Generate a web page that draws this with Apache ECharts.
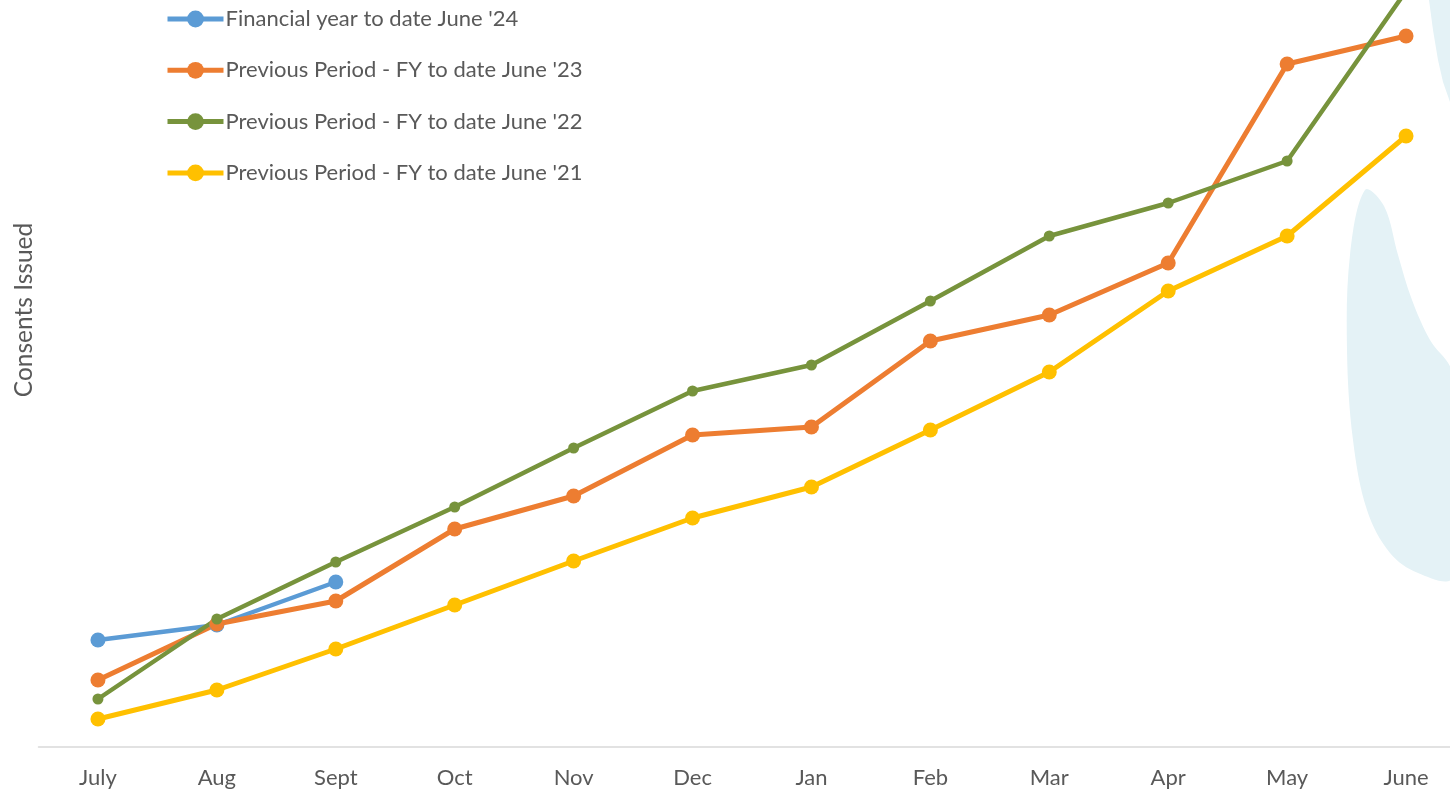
<!DOCTYPE html>
<html>
<head>
<meta charset="utf-8">
<script src="https://cdn.jsdelivr.net/npm/echarts@6/dist/echarts.min.js"></script>
<style>
  html, body { margin: 0; padding: 0; background: #fff; }
  #chart { width: 1450px; height: 792px; }
</style>
</head>
<body>
<div id="chart"></div>
<script>
// months of the financial year
var months = ['July', 'Aug', 'Sept', 'Oct', 'Nov', 'Dec', 'Jan', 'Feb', 'Mar', 'Apr', 'May', 'June'];

// consents issued (no value axis shown, so relative units)
var fy24 = [107, 122, 165];
var fy23 = [67, 123, 146, 218, 251, 312, 320, 406, 432, 484, 683, 711];
var fy22 = [48, 128, 185, 240, 299, 356, 382, 446, 511, 544, 586, 756];
var fy21 = [28, 57, 98, 142, 186, 229, 260, 317, 375, 456, 511, 611];

var seriesNames = [
    "Financial year to date June '24",
    "Previous Period - FY to date June '23",
    "Previous Period - FY to date June '22",
    "Previous Period - FY to date June '21"
];
var colors = ['#5B9BD5', '#ED7D31', '#77933C', '#FFC000'];

var FONT = 'Lato, "Open Sans", sans-serif';

function makeLine(name, data, color, symSize, width) {
    return {
        name: name,
        type: 'line',
        data: data,
        symbol: 'circle',
        symbolSize: symSize,
        showAllSymbol: true,
        clip: true,
        itemStyle: { color: color },
        lineStyle: { color: color, width: width },
        emphasis: { disabled: true },
        animation: false
    };
}

var chart = echarts.init(document.getElementById('chart'));

var option = {
    backgroundColor: '#fff',
    animation: false,
    textStyle: { fontFamily: FONT },
    graphic: [
        {   // decorative background shapes
            type: 'polygon', z: -10, silent: true,
            shape: {
                smooth: 0.35,
                points: [[1365, 190], [1384, 206], [1398, 255], [1412, 300], [1430, 340], [1452, 372],
                         [1458, 470], [1452, 578], [1418, 573], [1390, 553], [1367, 510],
                         [1353, 440], [1347, 350], [1350, 255]]
            },
            style: { fill: '#e4f2f6' }
        },
        {
            type: 'polygon', z: -10, silent: true,
            shape: {
                points: [[1429, 0], [1433, 30], [1438, 60], [1443, 82], [1450, 102], [1460, 102], [1460, 0]]
            },
            style: { fill: '#e4f2f6' }
        },
        {
            type: 'text', z: 10,
            x: 24, y: 310,
            rotation: Math.PI / 2,
            style: {
                text: 'Consents Issued',
                fontSize: 24.5,
                fontFamily: FONT,
                fill: '#595959',
                align: 'center',
                verticalAlign: 'middle'
            }
        }
    ],
    legend: {
        orient: 'vertical',
        left: 160,
        top: 3,
        itemWidth: 56,
        itemHeight: 21,
        itemGap: 29.3,
        data: seriesNames,
        lineStyle: { width: 5 },
        textStyle: { fontSize: 22, color: '#595959', fontFamily: FONT, lineHeight: 22, padding: [0, 0, 0, -3] }
    },
    grid: {
        left: 38.5,
        right: -15.5,
        top: 0,
        bottom: 45,
        outerBoundsMode: 'none'
    },
    xAxis: {
        type: 'category',
        data: months,
        boundaryGap: true,
        axisLine: { lineStyle: { color: '#d9d9d9', width: 1.5 } },
        axisTick: { show: false },
        axisLabel: { fontSize: 22, color: '#595959', margin: 20, fontFamily: FONT, interval: 0 },
        splitLine: { show: false }
    },
    yAxis: {
        type: 'value',
        min: 0,
        max: 747,
        show: false,
        splitLine: { show: false }
    },
    series: [
        makeLine(seriesNames[0], fy24, colors[0], 15, 4.5),
        makeLine(seriesNames[1], fy23, colors[1], 15, 5),
        makeLine(seriesNames[2], fy22, colors[2], 11, 4.5),
        makeLine(seriesNames[3], fy21, colors[3], 15, 5)
    ]
};

chart.setOption(option);
</script>
</body>
</html>
